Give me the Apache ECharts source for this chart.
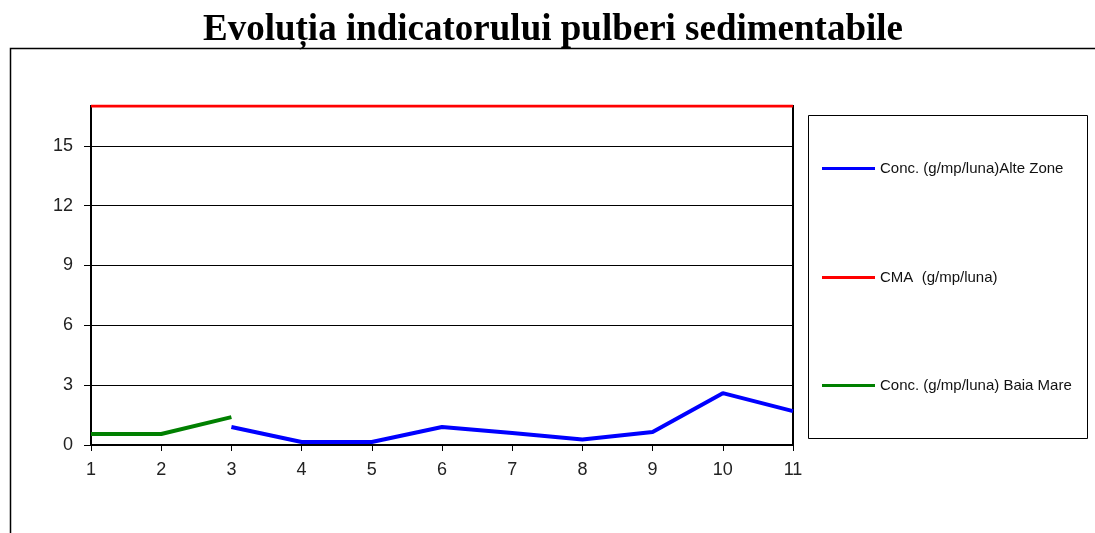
<!DOCTYPE html>
<html>
<head>
<meta charset="utf-8">
<script src="https://cdn.jsdelivr.net/npm/echarts@6/dist/echarts.min.js"></script>
<style>html,body{margin:0;padding:0;background:#fff}#c{width:1095px;height:533px}</style>
</head>
<body>
<div id="c"></div>
<script>
const categories = ['1','2','3','4','5','6','7','8','9','10','11'];
const alteZone = [null, null, 0.9, 0.15, 0.15, 0.9, 0.6, 0.28, 0.65, 2.6, 1.7];
const cma = [17, 17, 17, 17, 17, 17, 17, 17, 17, 17, 17];
const baiaMare = [0.55, 0.55, 1.4, null, null, null, null, null, null, null, null];
const names = ['Conc. (g/mp/luna)Alte Zone', 'CMA  (g/mp/luna)', 'Conc. (g/mp/luna) Baia Mare'];

const chart = echarts.init(document.getElementById('c'));
const legendCommon = {
  orient: 'vertical', left: 822, padding: 0, icon: 'rect', itemWidth: 53, itemHeight: 3, itemGap: 0,
  textStyle: { fontFamily: 'Liberation Sans', fontSize: 15, color: '#111' },
  selectedMode: false
};
chart.setOption({
  animation: false,
  backgroundColor: '#fff',
  title: {
    text: 'Evoluția indicatorului pulberi sedimentabile',
    left: 203, top: 12, padding: 0,
    textStyle: { fontFamily: 'Liberation Serif', fontWeight: 'bold', fontSize: 37, color: '#000' }
  },
  graphic: [
    { type: 'rect', shape: { x: 10.5, y: 48.5, width: 1200, height: 600 }, style: { fill: 'none', stroke: '#000', lineWidth: 1.5 }, silent: true, z: -1 },
    { type: 'rect', shape: { x: 808.5, y: 115.5, width: 279, height: 323 }, style: { fill: '#fff', stroke: '#000', lineWidth: 1 }, silent: true }
  ],
  legend: [
    Object.assign({}, legendCommon, { data: [names[0]], top: 161 }),
    Object.assign({}, legendCommon, { data: [names[1]], top: 270 }),
    Object.assign({}, legendCommon, { data: [names[2]], top: 378 })
  ],
  grid: { left: 91, right: 302, top: 106, bottom: 88, show: true, borderColor: '#000', borderWidth: 2, backgroundColor: '#fff' },
  xAxis: {
    type: 'category', data: categories, boundaryGap: false,
    axisLine: { lineStyle: { color: '#000', width: 2 } },
    axisTick: { length: 6, lineStyle: { color: '#000' } },
    axisLabel: { fontFamily: 'Liberation Sans', fontSize: 18, color: '#222', margin: 16 },
    splitLine: { show: false }
  },
  yAxis: {
    type: 'value', min: 0, max: 17, interval: 3,
    axisLine: { show: true, lineStyle: { color: '#000', width: 2 } },
    axisTick: { show: true, length: 7, lineStyle: { color: '#000' } },
    axisLabel: { fontFamily: 'Liberation Sans', fontSize: 18, color: '#222', margin: 18, showMaxLabel: false },
    splitLine: { lineStyle: { color: '#000', width: 1 } }
  },
  series: [
    { name: names[0], type: 'line', data: alteZone, showSymbol: false, connectNulls: false, lineStyle: { color: '#0000ff', width: 4 }, itemStyle: { color: '#0000ff' }, z: 3 },
    { name: names[1], type: 'line', data: cma, showSymbol: false, lineStyle: { color: '#ff0000', width: 3 }, itemStyle: { color: '#ff0000' }, z: 4 },
    { name: names[2], type: 'line', data: baiaMare, showSymbol: false, lineStyle: { color: '#008000', width: 4 }, itemStyle: { color: '#008000' }, z: 3 }
  ]
});
</script>
</body>
</html>
